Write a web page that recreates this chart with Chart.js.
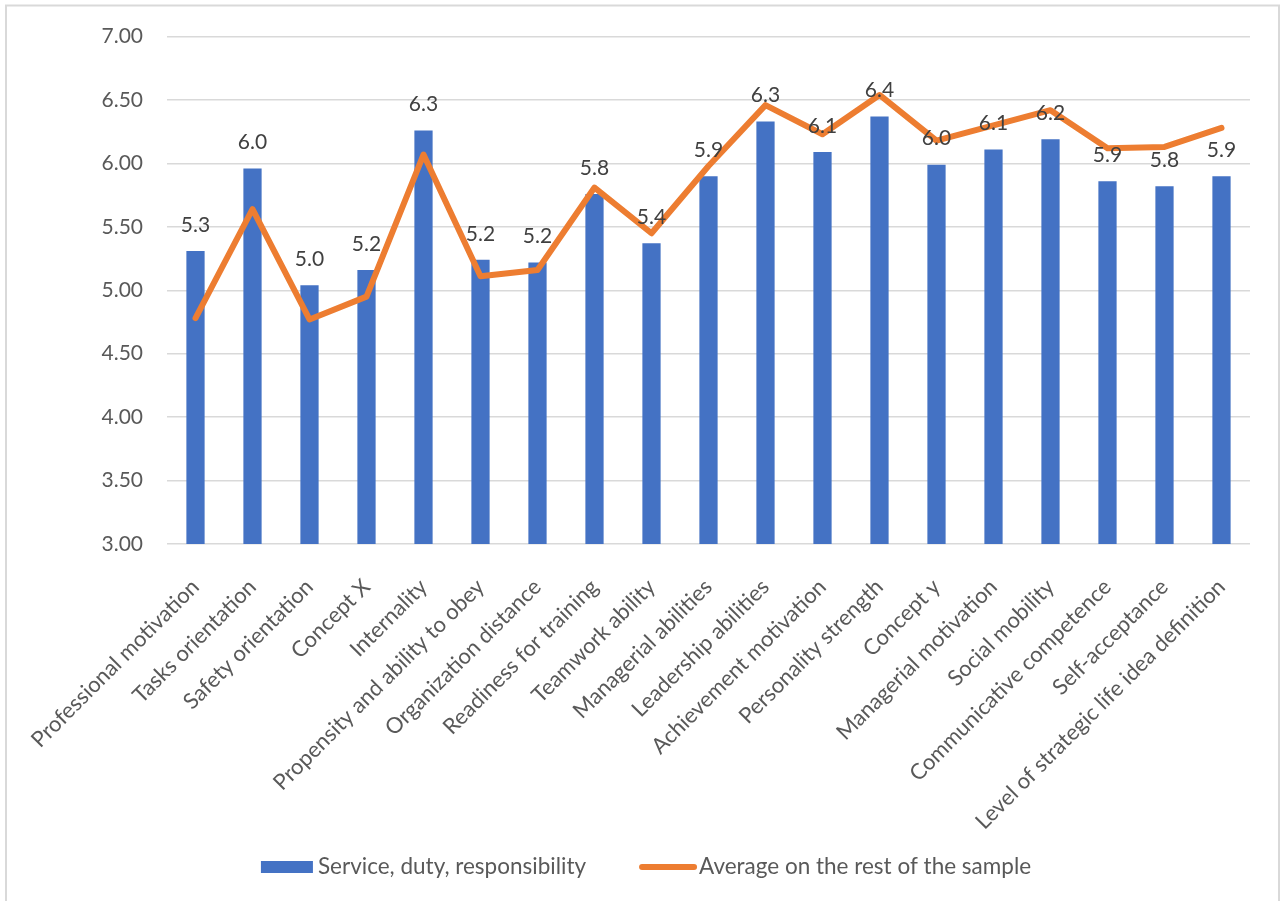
<!DOCTYPE html>
<html>
<head>
<meta charset="utf-8">
<title>Service, duty, responsibility</title>
<script src="https://cdn.jsdelivr.net/npm/chart.js"></script>
<style>
    html, body { margin: 0; padding: 0; background: #fff; }
    canvas { display: block; }
</style>
</head>
<body>
<canvas id="combo-chart" width="1282" height="901"></canvas>
<script>
// Categories (x axis)
const categories = [
    "Professional motivation", "Tasks orientation", "Safety orientation", "Concept X",
    "Internality", "Propensity and ability to obey", "Organization distance",
    "Readiness for training", "Teamwork ability", "Managerial abilities",
    "Leadership abilities", "Achievement motivation", "Personality strength",
    "Concept y", "Managerial motivation", "Social mobility",
    "Communicative competence", "Self-acceptance", "Level of strategic life idea definition"
];

// Bars: Service, duty, responsibility
const serviceValues = [5.31, 5.96, 5.04, 5.16, 6.26, 5.24, 5.22, 5.76, 5.37, 5.90,
    6.33, 6.09, 6.37, 5.99, 6.11, 6.19, 5.86, 5.82, 5.90];

// Line: average on the rest of the sample
const restValues = [4.78, 5.64, 4.77, 4.95, 6.07, 5.11, 5.16, 5.81, 5.45, 5.98,
    6.46, 6.23, 6.54, 6.18, 6.30, 6.42, 6.12, 6.13, 6.28];

const seriesNames = ["Service, duty, responsibility", "Average on the rest of the sample"];

// Y axis ticks
const yMin = 3, yMax = 7, yStep = 0.5;

const BLUE = '#4472C4';
const ORANGE = '#ED7D31';
const GRID = '#D9D9D9';
const TEXT = '#595959';
const FONT = 'Lato, "Open Sans", sans-serif';

// light frame around the whole chart
const framePlugin = {
    id: 'frame',
    beforeDraw: function (chart) {
        const ctx = chart.ctx;
        ctx.save();
        ctx.fillStyle = '#fff';
        ctx.fillRect(0, 0, chart.width, chart.height);
        ctx.strokeStyle = GRID;
        ctx.lineWidth = 2;
        ctx.strokeRect(6, 5.5, 1273, 1000);
        ctx.restore();
    }
};

// value labels above every bar
const barLabelPlugin = {
    id: 'barLabels',
    afterDatasetsDraw: function (chart) {
        const ctx = chart.ctx;
        const meta = chart.getDatasetMeta(0);
        ctx.save();
        ctx.fillStyle = '#404040';
        ctx.font = '21px ' + FONT;
        ctx.textAlign = 'center';
        ctx.textBaseline = 'middle';
        meta.data.forEach(function (bar, i) {
            ctx.fillText(serviceValues[i].toFixed(1), bar.x, bar.y - 26);
        });
        ctx.restore();
    }
};

// legend row under the axis labels: bar swatch + text, line swatch + text
const legendPlugin = {
    id: 'bottomLegend',
    afterDraw: function (chart) {
        const ctx = chart.ctx;
        const y = 867;
        const boxW = 52, lineW = 52, gapAfterBox = 5, gapAfterLine = 8, itemGap = 53;
        ctx.save();
        ctx.font = '22.5px ' + FONT;
        ctx.textBaseline = 'middle';
        ctx.textAlign = 'left';
        const w1 = ctx.measureText(seriesNames[0]).width;
        const w2 = ctx.measureText(seriesNames[1]).width;
        const total = boxW + gapAfterBox + w1 + itemGap + lineW + gapAfterLine + w2;
        let x = 646 - total / 2;

        ctx.fillStyle = BLUE;
        ctx.fillRect(x, y - 6, boxW, 12);
        x += boxW + gapAfterBox;
        ctx.fillStyle = TEXT;
        ctx.fillText(seriesNames[0], x, y);
        x += w1 + itemGap;

        ctx.strokeStyle = ORANGE;
        ctx.lineWidth = 6;
        ctx.lineCap = 'round';
        ctx.beginPath();
        ctx.moveTo(x + 3, y);
        ctx.lineTo(x + 3 + lineW, y);
        ctx.stroke();
        x += lineW + gapAfterLine;
        ctx.fillText(seriesNames[1], x, y);
        ctx.restore();
    }
};

const ctx = document.getElementById('combo-chart');

new Chart(ctx, {
    type: 'bar',
    data: {
        labels: categories,
        datasets: [{
            label: seriesNames[0],
            data: serviceValues,
            backgroundColor: BLUE,
            categoryPercentage: 1,
            barPercentage: 0.32,
            order: 2
        }, {
            type: 'line',
            label: seriesNames[1],
            data: restValues,
            borderColor: ORANGE,
            backgroundColor: ORANGE,
            borderWidth: 6,
            borderJoinStyle: 'round',
            borderCapStyle: 'round',
            pointRadius: 0,
            tension: 0,
            order: 1
        }]
    },
    options: {
        responsive: false,
        devicePixelRatio: 1,
        animation: false,
        layout: {
            padding: { top: 35, right: 32, bottom: 46, left: 0 }
        },
        plugins: {
            tooltip: { enabled: false },
            legend: { display: false }
        },
        scales: {
            x: {
                grid: { display: false },
                border: { display: false },
                ticks: {
                    color: TEXT,
                    font: { family: FONT, size: 22 },
                    autoSkip: false,
                    minRotation: 45,
                    maxRotation: 45,
                    padding: 22
                },
                afterFit: function (scale) { scale.height = 901 - 544 - 46; }
            },
            y: {
                min: yMin,
                max: yMax,
                border: { display: false },
                grid: { color: GRID, lineWidth: 1.5, drawTicks: false },
                ticks: {
                    stepSize: yStep,
                    color: TEXT,
                    font: { family: FONT, size: 21 },
                    padding: 24,
                    callback: function (v) { return v.toFixed(2); }
                },
                afterFit: function (scale) { scale.width = 167; }
            }
        }
    },
    plugins: [framePlugin, barLabelPlugin, legendPlugin]
});
</script>
</body>
</html>
